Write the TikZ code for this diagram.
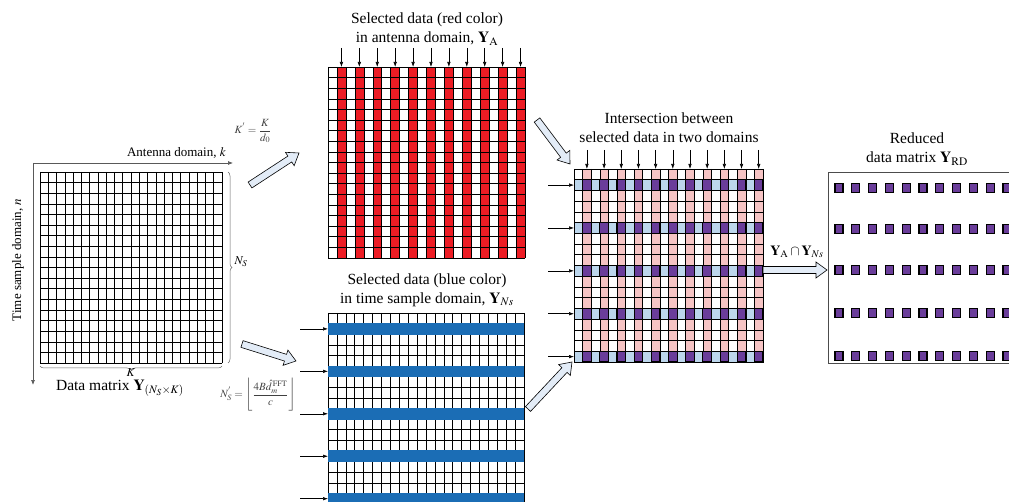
\documentclass[tikz,border=0pt]{standalone}
\usepackage{amsmath,amssymb}
\usepackage{mathptmx}
\usepackage{fontspec}
\setmainfont{Liberation Serif}
\usepackage{tikz}
\usetikzlibrary{calc}
\usetikzlibrary{arrows.meta}
\usetikzlibrary{decorations.pathreplacing}

\definecolor{redsel}{HTML}{ED1C24}
\definecolor{bluesel}{HTML}{1B6DB5}
\definecolor{pinksel}{HTML}{F6C4C4}
\definecolor{ltblue}{HTML}{BCD6EC}
\definecolor{purp}{HTML}{6A3D9A}
\definecolor{arrfill}{HTML}{E3ECF7}

\begin{document}
\begin{tikzpicture}[x=1pt,y=-1pt,
    font=\fontsize{15.5}{19}\selectfont,
    gridline/.style={line width=0.55pt, black},
    axisline/.style={line width=0.7pt, gray!70!black, -{Latex[length=5pt,width=4pt]}},
    selarrow/.style={line width=0.55pt, -{Latex[length=5pt,width=3.5pt]}},
    blockarr/.style={draw=black, line width=0.6pt, fill=arrfill},
    purpcell/.style={fill=purp, draw=black, line width=1.1pt},
    bracegray/.style={decorate, decoration={brace, amplitude=4pt}, gray!80!black, line width=0.5pt},
    smallmath/.style={font=\fontsize{11}{13}\selectfont, text=black!75}]

\useasboundingbox (0,0) rectangle (1009,502);
\clip (0,0) rectangle (1009,502);

    % 原始数据矩阵
    \foreach \i in {0,...,22} \draw[gridline] (40+\i*8.2727,172) -- ++(0,191);
    \foreach \j in {0,...,18} \draw[gridline] (40,172+\j*10.611) -- ++(182,0);

    % 坐标轴
    \coordinate (o) at (33,163);
    \coordinate (kend) at (233,163);
    \coordinate (nend) at (33,385);
    \draw[axisline] (o) -- (kend);
    \draw[axisline] (o) -- (nend);
    \node[anchor=south east, inner sep=1pt, font=\fontsize{13}{15}\selectfont] (klabel) at (227,160) {Antenna domain, $k$};
    \node[rotate=90, font=\fontsize{13}{15}\selectfont] (nlabel) at (18,260) {Time sample domain, $n$};

    \draw[bracegray] (228,172) -- (228,363);
    \draw[bracegray] (222,366) -- (40,366);
    \node[font=\fontsize{12}{14}\selectfont] (nslab) at (241,262) {$N_S$};
    \node[font=\fontsize{12}{14}\selectfont] (klab) at (131,373) {$K$};
    \node (dmlab) at (120,388) {Data matrix $\mathbf{Y}_{(N_S\times K)}$};

    % 天线域选择 (红色)
    \node[align=center] (redtitle) at (427,29) {Selected data (red color)\\in antenna domain, $\mathbf{Y}_{\mathrm{A}}$};
    \foreach \c in {1,3,...,21} \fill[redsel] (328+\c*8.9545,67) rectangle ++(8.9545,191);
    \foreach \i in {0,...,22} \draw[gridline] (328+\i*8.9545,67) -- ++(0,191);
    \foreach \j in {0,...,18} \draw[gridline] (328,67+\j*10.611) -- ++(197,0);
    \foreach \c in {1,3,...,21} \draw[selarrow] (328+\c*8.9545+4.477,48) -- ++(0,19);

    % 时间样本域选择 (蓝色)
    \node[align=center] (bluetitle) at (427,290) {Selected data (blue color)\\in time sample domain, $\mathbf{Y}_{Ns}$};
    \foreach \i in {0,...,22} \draw[gridline] (328+\i*8.909,313) -- ++(0,191);
    \foreach \j in {0,...,18} \draw[gridline] (328,313+\j*10.611) -- ++(196,0);
    \foreach \r in {1,5,...,17} \fill[bluesel] (328,313+\r*10.611-0.5) rectangle ++(196,11.6);
    \foreach \r in {1,5,...,17} \draw[selarrow] (300,313+\r*10.611+5.3) -- ++(28,0);

    % 两个域的交集
    \node[align=center] (intertitle) at (669,128) {Intersection between\\selected data in two domains};
    \foreach \c in {1,3,...,21} \fill[pinksel] (574+\c*8.591,169) rectangle ++(8.591,193);
    \foreach \r in {1,5,...,17} \fill[ltblue] (574,169+\r*10.722) rectangle ++(189,10.722);
    \foreach \i in {0,...,22} \draw[gridline] (574+\i*8.591,169) -- ++(0,193);
    \foreach \j in {0,...,18} \draw[gridline] (574,169+\j*10.722) -- ++(189,0);
    \foreach \c in {1,3,...,21}
      \foreach \r in {1,5,...,17}
        \draw[purpcell] (574+\c*8.591,169+\r*10.722) rectangle ++(8.591,10.722);
    \foreach \c in {1,3,...,21} \draw[selarrow] (574+\c*8.591+4.3,150) -- ++(0,19);
    \foreach \r in {1,5,...,17} \draw[selarrow] (548,169+\r*10.722+5.36) -- ++(26,0);

    % 降维后的数据矩阵
    \node[align=center] (redtitle2) at (917,149) {Reduced\\data matrix $\mathbf{Y}_{\mathrm{RD}}$};
    \draw[line width=0.8pt, gray!60!black] (1020,172) -- (828,172) -- (828,363) -- (1020,363);
    \foreach \i in {0,...,10}
      \foreach \y in {188,229,270,313,356}
        \draw[purpcell] (835+\i*16.8,\y-4.5) rectangle ++(8,9);
    \node[font=\fontsize{14}{16}\selectfont] (caplab) at (797,252) {$\mathbf{Y}_{\mathrm{A}}\cap\mathbf{Y}_{Ns}$};

    % 公式
    \node[smallmath] (kform) at (253,131) {$K^{'}=\dfrac{K}{d_0}$};
    \node[smallmath] (nform) at (258,395) {$N_S^{'}=\left\lfloor\dfrac{4B{\hat{d}}_m^{\,\mathrm{FFT}}}{c}\right\rfloor$};

    % 空心箭头
    \coordinate (b1s) at (250,185);  \coordinate (b1e) at (299,153);
    \coordinate (b2s) at (242,344);  \coordinate (b2e) at (296,361);
    \coordinate (b3s) at (537,120);  \coordinate (b3e) at (570,164);
    \coordinate (b4s) at (528,409);  \coordinate (b4e) at (572,362);
    \coordinate (b5s) at (763,270);  \coordinate (b5e) at (827,270);
    \foreach \s/\e in {b1s/b1e,b2s/b2e,b3s/b3e,b4s/b4e,b5s/b5e}{
      \coordinate (nk) at ($(\e)!11pt!(\s)$);
      \draw[blockarr] ($(\s)!3.5pt!90:(\e)$) -- ($(nk)!3.5pt!90:(\e)$) -- ($(nk)!8pt!90:(\e)$) -- (\e)
        -- ($(nk)!8pt!-90:(\e)$) -- ($(nk)!3.5pt!-90:(\e)$) -- ($(\s)!3.5pt!-90:(\e)$) -- cycle;
    }

\end{tikzpicture}
\end{document}
